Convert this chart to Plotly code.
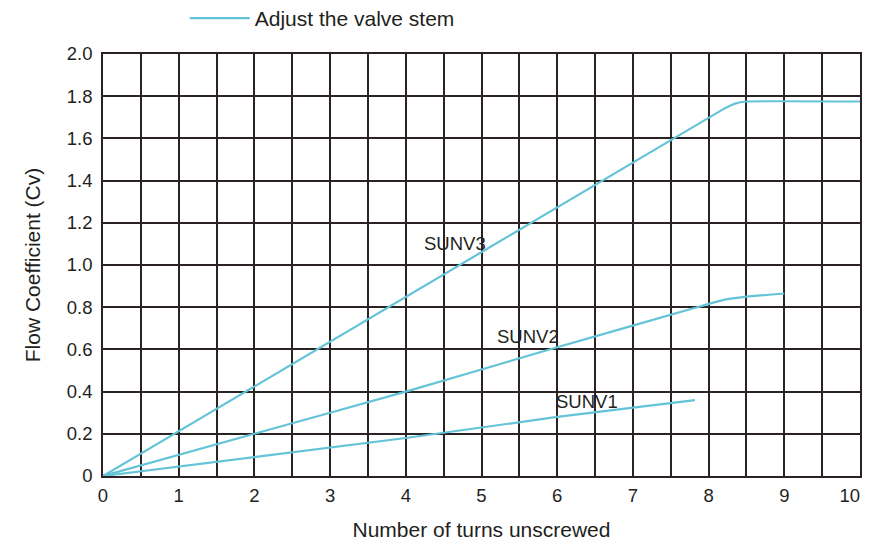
import plotly.graph_objects as go

# SUNV3
sunv3_x = [0, 8.2, 8.35, 8.5, 10]
sunv3_y = [0, 1.74, 1.765, 1.775, 1.775]
# SUNV2
sunv2_x = [0, 2, 4, 6, 7.8, 8.2, 8.5, 9.0]
sunv2_y = [0, 0.2, 0.4, 0.61, 0.795, 0.835, 0.85, 0.865]
# SUNV1
sunv1_x = [0, 2, 4, 6, 7.82]
sunv1_y = [0, 0.09, 0.18, 0.28, 0.36]

labels = ["SUNV3", "SUNV2", "SUNV1"]
label_x = [4.65, 5.61, 6.39]
label_y = [1.10, 0.66, 0.355]

y_ticks = [0, 0.2, 0.4, 0.6, 0.8, 1.0, 1.2, 1.4, 1.6, 1.8, 2.0]
y_ticktext = ["0", "0.2", "0.4", "0.6", "0.8", "1.0", "1.2", "1.4", "1.6", "1.8", "2.0"]
x_ticks = [0, 1, 2, 3, 4, 5, 6, 7, 8, 9, 10]
# last label padded with non-breaking spaces so it stays inside the page edge
x_ticktext = ["0", "1", "2", "3", "4", "5", "6", "7", "8", "9", "10\u00a0\u00a0\u00a0\u00a0"]

color = "#63C3D7"
grid = "#2b2323"
txt = "#231f20"
fam = "Liberation Sans, Arial"

fig = go.Figure()
fig.add_trace(go.Scatter(x=sunv3_x, y=sunv3_y, mode="lines", name="Adjust the valve stem",
                         line=dict(color=color, width=2.2, shape="spline", smoothing=0.3), showlegend=True))
fig.add_trace(go.Scatter(x=sunv2_x, y=sunv2_y, mode="lines", name="SUNV2",
                         line=dict(color=color, width=2.2, shape="spline", smoothing=0.3), showlegend=False))
fig.add_trace(go.Scatter(x=sunv1_x, y=sunv1_y, mode="lines", name="SUNV1",
                         line=dict(color=color, width=2.2), showlegend=False))

for t, x, y in zip(labels, label_x, label_y):
    fig.add_annotation(x=x, y=y, text=t, showarrow=False,
                       font=dict(family=fam, size=18.5, color=txt))

fig.update_layout(
    width=854, height=533,
    margin=dict(l=95, r=2, t=46, b=65, autoexpand=False),
    paper_bgcolor="white", plot_bgcolor="white",
    font=dict(family=fam, size=18, color=txt),
    legend=dict(orientation="h", x=0.108, y=1.084, xanchor="left", yanchor="middle",
                font=dict(size=21), bgcolor="rgba(0,0,0,0)", itemwidth=60),
    xaxis=dict(range=[0, 10], tickvals=x_ticks, ticktext=x_ticktext, showgrid=True,
               gridcolor=grid, gridwidth=1.6,
               minor=dict(dtick=0.5, showgrid=True, gridcolor=grid, gridwidth=1.6),
               showline=True, linecolor=grid, linewidth=1.6, mirror=True, zeroline=False,
               ticks="", ticklabelstandoff=2, tickfont=dict(size=18.5), ticklabeloverflow="allow",
               title=dict(text="Number of turns unscrewed", font=dict(size=21), standoff=20)),
    yaxis=dict(range=[0, 2.0], tickvals=y_ticks, ticktext=y_ticktext, showgrid=True,
               gridcolor=grid, gridwidth=1.6,
               showline=True, linecolor=grid, linewidth=1.6, mirror=True, zeroline=False,
               ticks="", ticklabelstandoff=5, tickfont=dict(size=18.5),
               title=dict(text="Flow Coefficient (Cv)", font=dict(size=21), standoff=20)),
)

fig.write_html("out.html")
